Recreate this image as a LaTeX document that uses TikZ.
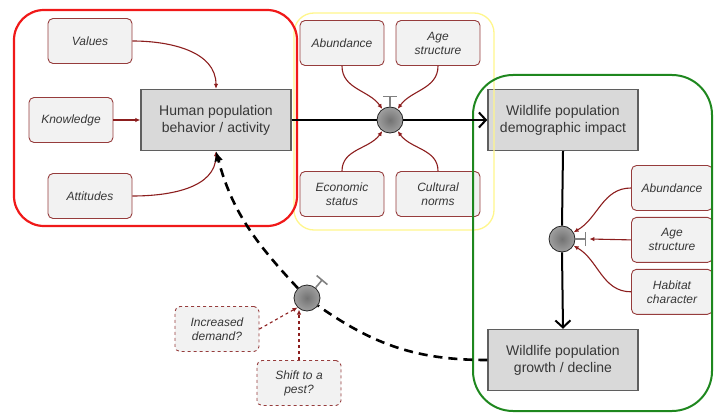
\documentclass[tikz,border=0pt]{standalone}
\usepackage{fontspec}
\setmainfont{Liberation Sans}
\usepackage{tikz}
\usetikzlibrary{shapes,arrows.meta,positioning,calc}
\definecolor{factorfill}{RGB}{242,242,242}
\definecolor{factorline}{RGB}{150,60,60}
\definecolor{linkred}{RGB}{140,30,30}
\definecolor{mainfill}{RGB}{217,217,217}
\definecolor{mainline}{RGB}{95,95,95}
\definecolor{textgray}{RGB}{55,55,55}
\definecolor{humanframe}{RGB}{240,25,25}
\definecolor{socialframe}{RGB}{255,246,140}
\definecolor{wildframe}{RGB}{30,135,30}

\begin{document}
\begin{tikzpicture}[x=1pt,y=1pt,node distance=6pt,factor/.style={draw=factorline,fill=factorfill,rounded corners=5pt,line width=0.9pt,align=center,minimum width=84pt,minimum height=45pt,font=\fontsize{12}{14}\selectfont\itshape,text=textgray},query/.style={factor,dashed},main/.style={draw=mainline,fill=mainfill,line width=1.4pt,align=center,minimum width=150pt,minimum height=61pt,font=\fontsize{14}{17}\selectfont,text=textgray},hub/.style={circle,draw=gray!30!black,line width=0.8pt,inner sep=0pt,minimum size=26pt,inner color=gray!90!black,outer color=gray!75},trunk/.style={line width=2pt},arr/.style={trunk,-{Straight Barb[length=7pt,width=15pt]}},link/.style={-{Latex[length=5pt,width=4.5pt]},draw=linkred,line width=1.1pt},qlink/.style={link,dashed},feedback/.style={line width=2.6pt,dash pattern=on 9pt off 6pt},stopper/.style={draw=gray,line width=1.6pt}]
\useasboundingbox (0,0) rectangle (714,413);
% human side
\node[factor](values) at (90,372){Values}; \node[factor](knowledge) at (71,293){Knowledge}; \node[factor](attitudes) at (90,217){Attitudes};
\node[main](human) at (216,293){Human population\\behavior / activity};
% social modifiers
\node[factor](abund) at (342,370){Abundance}; \node[factor](agestr) at (438,370){Age\\structure};
\node[factor](econ) at (342,219){Economic\\status}; \node[factor](culture) at (438,219){Cultural\\norms};
\node[hub](hub1) at (390,293){};
% wildlife side
\node[main](impact) at (563,293){Wildlife population\\demographic impact}; \node[main](growth) at (563,53){Wildlife population\\growth / decline};
\node[hub](hub2) at (562,174){};
\node[factor,minimum width=81pt](abund2) at (672,225){Abundance}; \node[factor,minimum width=81pt,below=of abund2](agestr2){Age\\structure}; \node[factor,minimum width=81pt,below=of agestr2](habitat){Habitat\\character};
% feedback
\node[hub](hub3) at (307,115){}; \node[query](demand) at (217,84){Increased\\demand?}; \node[query](pest) at (299,30){Shift to a\\pest?};
\draw[socialframe,line width=1.3pt,rounded corners=20pt] (294,183) rectangle (494,400);
\draw[humanframe,line width=2.2pt,rounded corners=30pt] (14,187) rectangle (297,403);
\draw[wildframe,line width=2pt,rounded corners=40pt] (473,2) rectangle (712,338);
\draw[link](values.east) to[out=0,in=90] (human.north); \draw[link](knowledge) -- (human); \draw[link](attitudes.east) to[out=0,in=-90] (human.south);
\draw[link](abund.south) to[out=-90,in=125] (hub1.125); \draw[link](agestr.south) to[out=-90,in=55] (hub1.55);
\draw[link](econ.north) to[out=90,in=-125] (hub1.-125); \draw[link](culture.north) to[out=90,in=-55] (hub1.-55);
\draw[link](abund2.west) to[out=180,in=30] (hub2.30); \draw[link](agestr2.west) -- ($(hub2.east)+(14,0)$); \draw[link](habitat.west) to[out=180,in=-30] (hub2.-30);
\draw[trunk](human.east) -- (hub1.west); \draw[arr](hub1.east) -- (impact.west);
\draw[trunk](impact.south) -- (hub2.north); \draw[arr](hub2.south) -- (growth.north);
\draw[feedback](growth.west) to[out=180,in=-35] (hub3); \draw[feedback,-{Latex[length=10pt,width=9pt]}](hub3) to[out=133,in=-75] (human.south);
\draw[qlink](demand.east) -- (hub3.225); \draw[qlink](pest.north) -- (pest.north|-hub3.240);
\draw[stopper](hub1.north) -- ++(0,10) ++(-7,0) -- ++(14,0); \draw[stopper](hub2.east) -- ++(10,0) ++(0,-7) -- ++(0,14);
\draw[stopper](hub3.50) -- ++(50:10) ++(140:7) -- ++(-40:14);
\end{tikzpicture}
\end{document}
